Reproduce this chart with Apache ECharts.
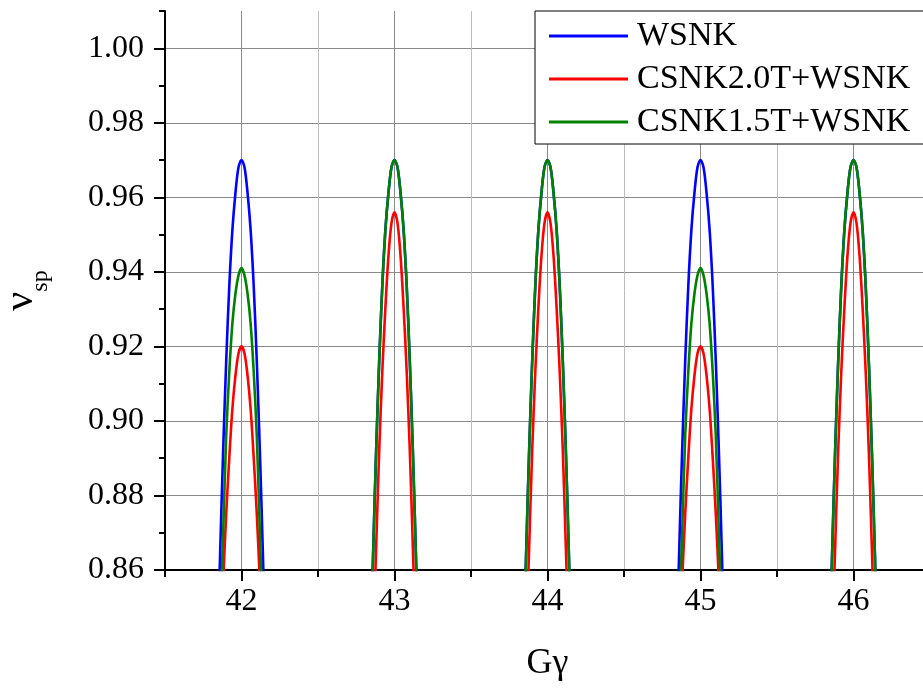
<!DOCTYPE html>
<html>
<head>
<meta charset="utf-8">
<script src="https://cdn.jsdelivr.net/npm/echarts@6/dist/echarts.min.js"></script>
<style>
html,body{margin:0;padding:0;background:#fff;}
#chart{width:923px;height:693px;}
</style>
</head>
<body>
<div id="chart"></div>
<script>
// ---- data ----
var seriesNames = ['WSNK', 'CSNK2.0T+WSNK', 'CSNK1.5T+WSNK'];
var seriesColors = ['#0000ff', '#ff0000', '#008000'];
var peakCenters = [42, 43, 44, 45, 46];
var offsets = [-0.16, -0.14, -0.12, -0.10, -0.08, -0.06, -0.04, -0.02, 0, 0.02, 0.04, 0.06, 0.08, 0.10, 0.12, 0.14, 0.16];
// peak profiles (values at the offsets above)
var profileHigh   = [0.832, 0.864, 0.892, 0.916, 0.936, 0.951, 0.961, 0.968, 0.970, 0.968, 0.961, 0.951, 0.936, 0.916, 0.892, 0.864, 0.832];
var profileRedMid = [0.808, 0.838, 0.866, 0.892, 0.913, 0.930, 0.944, 0.953, 0.956, 0.953, 0.944, 0.930, 0.913, 0.892, 0.866, 0.838, 0.808];
var profileRedLow = [0.815, 0.837, 0.857, 0.875, 0.890, 0.903, 0.912, 0.918, 0.920, 0.918, 0.912, 0.903, 0.890, 0.875, 0.857, 0.837, 0.815];
var profileGreenLow = [0.818, 0.845, 0.870, 0.896, 0.913, 0.926, 0.934, 0.939, 0.941, 0.939, 0.934, 0.926, 0.913, 0.896, 0.870, 0.845, 0.818];
// which profile each series has at each peak
var wsnkPeaks   = [profileHigh, profileHigh, profileHigh, profileHigh, profileHigh];
var csnk20Peaks = [profileRedLow, profileRedMid, profileRedMid, profileRedLow, profileRedMid];
var csnk15Peaks = [profileGreenLow, profileHigh, profileHigh, profileGreenLow, profileHigh];
var xLabelTicks = [42, 43, 44, 45, 46];
var yLabelTicks = [0.86, 0.88, 0.90, 0.92, 0.94, 0.96, 0.98, 1.00];

function buildSeriesData(peaks) {
  var out = [];
  peaks.forEach(function (prof, i) {
    if (i > 0) out.push([peakCenters[i] - 0.5, null]);
    offsets.forEach(function (dx, j) {
      out.push([+(peakCenters[i] + dx).toFixed(3), prof[j]]);
    });
  });
  return out;
}
var allPeaks = [wsnkPeaks, csnk20Peaks, csnk15Peaks];

var FONT = 'Liberation Serif';
var chart = echarts.init(document.getElementById('chart'), null, {renderer: 'canvas'});

var option = {
  animation: false,
  backgroundColor: '#fff',
  grid: {left: 165, top: 11, width: 765, height: 559, containLabel: false, outerBoundsMode: 'none'},
  legend: {
    orient: 'vertical',
    left: 535, top: 11,
    padding: [8, 20, 5, 14],
    itemGap: 9,
    itemWidth: 79, itemHeight: 3,
    icon: 'rect',
    borderColor: '#000', borderWidth: 1,
    backgroundColor: '#fff',
    textStyle: {fontFamily: FONT, fontSize: 34, color: '#000', lineHeight: 34, padding: [0, 0, 0, 4]},
    data: seriesNames
  },
  xAxis: [{
    type: 'value', min: 41.5, max: 46.5, interval: 0.5,
    position: 'bottom',
    axisLine: {show: true, onZero: false, lineStyle: {color: '#000', width: 2}},
    axisTick: {show: true, inside: false, length: 7, lineStyle: {color: '#000', width: 2}},
    axisLabel: {show: false},
    splitLine: {show: true, lineStyle: {color: ['#bdbdbd', '#8a8a8a'], width: 1}},
    name: 'Gγ', nameLocation: 'middle', nameGap: 76,
    nameTextStyle: {fontFamily: FONT, fontSize: 36, color: '#000'}
  }, {
    type: 'value', min: 41.5, max: 46.5, interval: 0.5,
    position: 'bottom',
    axisLine: {show: false, onZero: false},
    axisTick: {show: true, inside: false, length: 11, customValues: xLabelTicks, lineStyle: {color: '#000', width: 2}},
    axisLabel: {show: true, customValues: xLabelTicks, margin: 16, fontFamily: FONT, fontSize: 32, color: '#000',
      formatter: function (v) { return String(v); }},
    splitLine: {show: false}
  }],
  yAxis: [{
    type: 'value', min: 0.86, max: 1.01, interval: 0.01,
    axisLine: {show: true, onZero: false, lineStyle: {color: '#000', width: 2}},
    axisTick: {show: true, inside: false, length: 6, lineStyle: {color: '#000', width: 2}},
    axisLabel: {show: false},
    splitLine: {show: true, lineStyle: {color: ['#8a8a8a', 'rgba(0,0,0,0)'], width: 1}},
    name: '{a|ν}{b|sp}', nameLocation: 'middle', nameRotate: 90, nameGap: 122,
    nameTextStyle: {
      fontFamily: FONT, color: '#000',
      rich: {
        a: {fontFamily: FONT, fontSize: 42, color: '#000', lineHeight: 44},
        b: {fontFamily: FONT, fontSize: 24, color: '#000', verticalAlign: 'bottom', lineHeight: 24, padding: [0, 0, -10, 0]}
      }
    }
  }, {
    type: 'value', min: 0.86, max: 1.01, interval: 0.01,
    position: 'left',
    axisLine: {show: false, onZero: false},
    axisTick: {show: true, inside: false, length: 11, customValues: yLabelTicks, lineStyle: {color: '#000', width: 2}},
    axisLabel: {show: true, customValues: yLabelTicks, margin: 21, fontFamily: FONT, fontSize: 32, color: '#000',
      formatter: function (v) { return v.toFixed(2); }},
    splitLine: {show: false}
  }],
  series: seriesNames.map(function (name, k) {
    return {
      name: name, type: 'line',
      xAxisIndex: 0, yAxisIndex: 0,
      data: buildSeriesData(allPeaks[k]),
      smooth: 0.3, showSymbol: false, symbol: 'none',
      connectNulls: false, clip: true,
      lineStyle: {color: seriesColors[k], width: 2.6},
      itemStyle: {color: seriesColors[k]},
      z: 3 + k
    };
  })
};
chart.setOption(option);
</script>
</body>
</html>
